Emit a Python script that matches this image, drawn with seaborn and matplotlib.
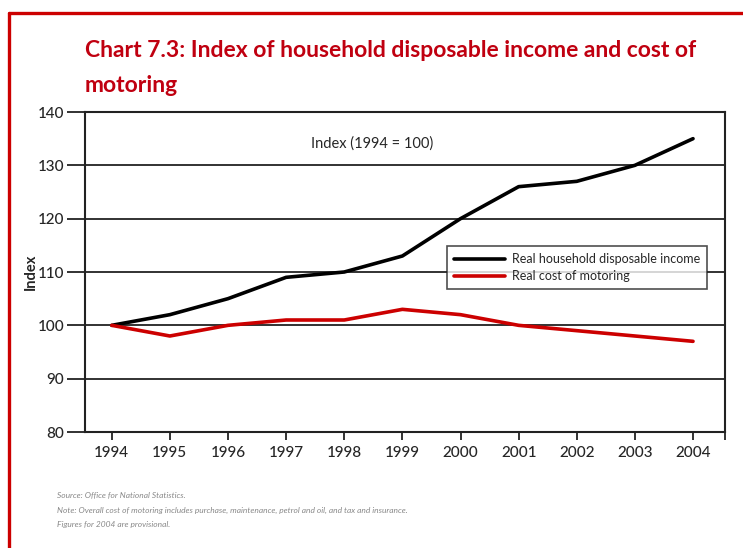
import matplotlib
matplotlib.use("Agg")
import matplotlib.pyplot as plt
from matplotlib.lines import Line2D
import seaborn as sns
import pandas as pd

years = [1994, 1995, 1996, 1997, 1998, 1999, 2000, 2001, 2002, 2003, 2004]
income = [100, 102, 105, 109, 110, 113, 120, 126, 127, 130, 135]
motoring = [100, 98, 100, 101, 101, 103, 102, 100, 99, 98, 97]
series_names = ["Real household disposable income", "Real cost of motoring"]
series_colors = ["#000000", "#cc0000"]
y_ticks = [80, 90, 100, 110, 120, 130, 140]

df = pd.DataFrame({
    "Year": years * 2,
    "Index": income + motoring,
    "Series": [series_names[0]] * len(years) + [series_names[1]] * len(years),
})

sns.set_theme(style="white")
plt.rcParams["font.family"] = ["Lato", "DejaVu Sans"]

fig = plt.figure(figsize=(7.43, 5.48), dpi=100)
ax = fig.add_axes([85 / 743, 1 - 432 / 548, 640 / 743, 320 / 548])

# gridlines drawn first so the series sit on top
for v in y_ticks[1:]:
    ax.axhline(v, color="#222222", lw=1.3, zorder=1)

sns.lineplot(data=df, x="Year", y="Index", hue="Series",
             palette=dict(zip(series_names, series_colors)),
             linewidth=2.6, ax=ax, zorder=3)

ax.set_xlim(1993.54, 2004.55)
ax.set_ylim(80, 140)
ax.set_yticks(y_ticks)
ax.set_xticks(years)
ax.set_xticks([2004.55], minor=True)
ax.tick_params(axis="y", length=13, width=1.3, color="#222222",
               labelsize=11, pad=2, left=True)
ax.tick_params(axis="x", which="both", length=6, width=1.3, color="#222222",
               labelsize=11, pad=4, bottom=True)
for lab in ax.get_xticklabels() + ax.get_yticklabels():
    lab.set_fontweight("medium")

for s in ax.spines.values():
    s.set_color("#222222")
    s.set_linewidth(1.5)

ax.set_xlabel("")
ax.set_ylabel("Index", fontsize=10.5, fontweight="bold")
ax.yaxis.set_label_coords(-0.074, 0.5)

ax.text(0.449, 0.9, "Index (1994 = 100)", transform=ax.transAxes,
        ha="center", va="center", fontsize=10.5)

leg = ax.legend(loc="upper left", bbox_to_anchor=(0.566, 0.581),
                frameon=True, fancybox=False, fontsize=9,
                handlelength=4.1, handletextpad=0.5, borderpad=0.55,
                labelspacing=0.4, borderaxespad=0)
leg.get_frame().set_edgecolor("#222222")
leg.get_frame().set_linewidth(1.2)
for h in leg.get_lines():
    h.set_linewidth(2.6)

# title
title_kw = dict(color="#c00010", fontsize=16.5, fontweight="bold",
                ha="left", va="center", family=["Lato", "DejaVu Sans"])
fig.text(85 / 743, 1 - 50 / 548,
         "Chart 7.3: Index of household disposable income and cost of", **title_kw)
fig.text(85 / 743, 1 - 85 / 548, "motoring", **title_kw)

# notes beneath the chart
notes = [
    "Source: Office for National Statistics.",
    "Note: Overall cost of motoring includes purchase, maintenance, petrol and oil, and tax and insurance.",
    "Figures for 2004 are provisional.",
]
for i, t in enumerate(notes):
    fig.text(57 / 743, 1 - (495 + 15 * i) / 548, t, fontsize=6.0,
             style="italic", color="#888888", ha="left", va="center")

# red frame around the page panel
fig.add_artist(Line2D([9 / 743, 9 / 743], [0, 1 - 13 / 548],
                      transform=fig.transFigure, color="#cc0000", lw=2.4))
fig.add_artist(Line2D([9 / 743, 1], [1 - 13 / 548, 1 - 13 / 548],
                      transform=fig.transFigure, color="#cc0000", lw=2.4))

fig.savefig("out.png", dpi=100, facecolor="white")
